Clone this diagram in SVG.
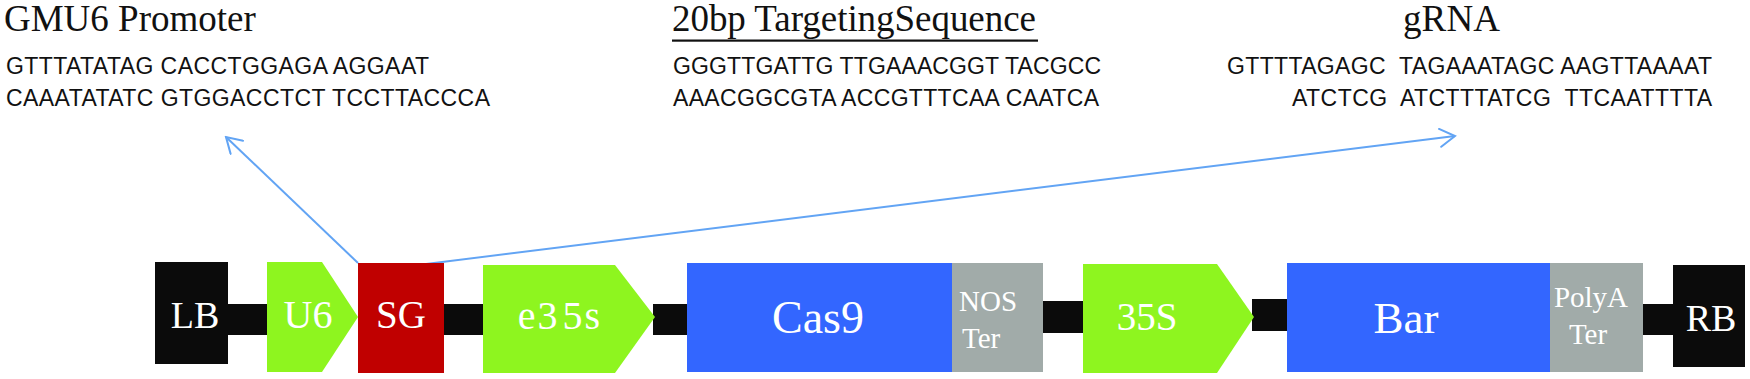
<svg xmlns="http://www.w3.org/2000/svg" width="1750" height="379" viewBox="0 0 1750 379">
  <style>
    .title { font-family: "Liberation Serif", "Times New Roman", serif; font-size: 37px; fill: #111; }
    .seq { font-family: "Liberation Sans", Arial, sans-serif; font-size: 23px; fill: #111; white-space: pre; }
    .lbl { font-family: "Liberation Serif", "Times New Roman", serif; fill: #fff; text-anchor: middle; }
    .small { font-family: "Liberation Serif", "Times New Roman", serif; fill: #fff; font-size: 29px; }
    .black { fill: #0b0b0b; }
    .green { fill: #8ef51f; }
    .red { fill: #c00000; }
    .blue { fill: #3366ff; }
    .gray { fill: #a1aba9; }
    .arrow { stroke: #62a4f4; stroke-width: 2; fill: none; }
  </style>
  <defs>
    <marker id="open" viewBox="0 0 20 20" refX="18" refY="10" markerWidth="20" markerHeight="20" markerUnits="userSpaceOnUse" orient="auto">
      <path d="M3,1 L18,10 L3,19" fill="none" stroke="#62a4f4" stroke-width="2" stroke-linecap="round"/>
    </marker>
  </defs>

  <g id="text-gmu6">
    <text class="title" x="4" y="31">GMU6 Promoter</text>
    <text class="seq" x="6" y="74" textLength="423" lengthAdjust="spacing">GTTTATATAG CACCTGGAGA AGGAAT</text>
    <text class="seq" x="6" y="106" textLength="484" lengthAdjust="spacing">CAAATATATC GTGGACCTCT TCCTTACCCA</text>
  </g>
  <g id="text-target">
    <text class="title" x="672" y="31" textLength="364" lengthAdjust="spacing">20bp TargetingSequence</text>
    <rect x="672" y="39.5" width="366" height="2.2" fill="#111"/>
    <text class="seq" x="673" y="74" textLength="428" lengthAdjust="spacing">GGGTTGATTG TTGAAACGGT TACGCC</text>
    <text class="seq" x="673" y="106" textLength="426" lengthAdjust="spacing">AAACGGCGTA ACCGTTTCAA CAATCA</text>
  </g>
  <g id="text-grna">
    <text class="title" x="1403" y="31" textLength="97" lengthAdjust="spacing">gRNA</text>
    <text class="seq" x="1227" y="74" textLength="485" lengthAdjust="spacing">GTTTTAGAGC  TAGAAATAGC AAGTTAAAAT</text>
    <text class="seq" x="1292" y="106" textLength="420" lengthAdjust="spacing">ATCTCG  ATCTTTATCG  TTCAATTTTA</text>
  </g>

  <g id="connectors">
    <rect class="black" x="226" y="304" width="43" height="31"/>
    <rect class="black" x="442" y="304" width="43" height="31"/>
    <rect class="black" x="653" y="304" width="36" height="31"/>
    <rect class="black" x="1041" y="301" width="44" height="32"/>
    <rect class="black" x="1252" y="299" width="37" height="32"/>
    <rect class="black" x="1641" y="304" width="34" height="31"/>
    <line class="arrow" x1="358" y1="263" x2="226" y2="137" marker-end="url(#open)"/>
    <line class="arrow" x1="426" y1="264" x2="1455" y2="136" marker-end="url(#open)"/>
  </g>

  <g id="node-LB">
    <rect class="black" x="155" y="262" width="73" height="102"/>
    <text class="lbl" x="195" y="328" font-size="38">LB</text>
  </g>
  <g id="node-U6">
    <polygon class="green" points="267,262 322,262 358,317 322,372 267,372"/>
    <text class="lbl" x="308" y="328" font-size="40">U6</text>
  </g>
  <g id="node-SG">
    <rect class="red" x="358" y="263" width="86" height="110"/>
    <text class="lbl" x="401" y="328" font-size="39">SG</text>
  </g>
  <g id="node-e35s">
    <polygon class="green" points="483,265 615,265 655,317 615,373 483,373"/>
    <text class="lbl" x="560" y="329" font-size="40" letter-spacing="2">e3<tspan dx="3">5s</tspan></text>
  </g>
  <g id="node-Cas9">
    <rect class="blue" x="687" y="263" width="265" height="109"/>
    <text class="lbl" x="818" y="333" font-size="46">Cas9</text>
  </g>
  <g id="node-NOS">
    <rect class="gray" x="952" y="263" width="91" height="109"/>
    <text class="small" x="959" y="311">NOS</text>
    <text class="small" x="962" y="348">Ter</text>
  </g>
  <g id="node-35S">
    <polygon class="green" points="1083,264 1217,264 1254,317 1217,373 1083,373"/>
    <text class="lbl" x="1147" y="330" font-size="39">35S</text>
  </g>
  <g id="node-Bar">
    <rect class="blue" x="1287" y="263" width="263" height="109"/>
    <text class="lbl" x="1406" y="333" font-size="45">Bar</text>
  </g>
  <g id="node-PolyA">
    <rect class="gray" x="1550" y="263" width="93" height="109"/>
    <text class="small" x="1591" y="307" text-anchor="middle">PolyA</text>
    <text class="small" x="1588" y="344" text-anchor="middle">Ter</text>
  </g>
  <g id="node-RB">
    <rect class="black" x="1673" y="265" width="72" height="102"/>
    <text class="lbl" x="1711" y="331" font-size="38">RB</text>
  </g>
</svg>
